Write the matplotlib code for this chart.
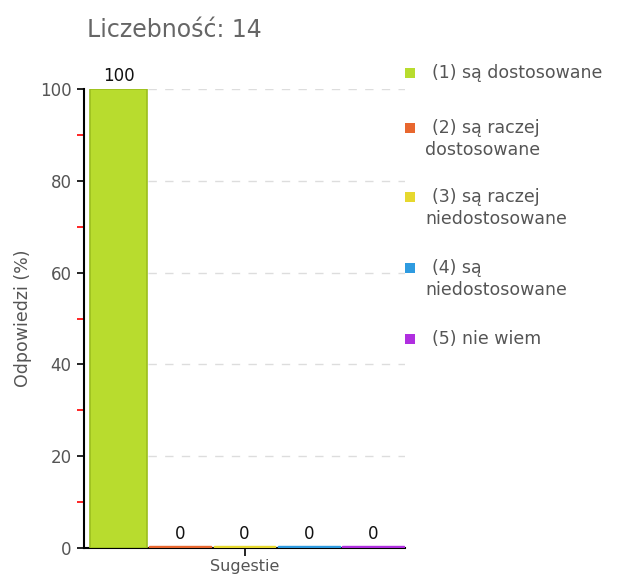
import matplotlib
matplotlib.use("Agg")
import matplotlib.pyplot as plt
from matplotlib.patches import Rectangle

categories = ["(1) są dostosowane", "(2) są raczej\ndostosowane", "(3) są raczej\nniedostosowane",
              "(4) są\nniedostosowane", "(5) nie wiem"]
values = [100, 0, 0, 0, 0]
colors = ["#b8dc2e", "#e8672f", "#e6d82e", "#2e9be0", "#b02ee0"]
edge_colors = ["#9cbf1e", "#e8672f", "#e6d82e", "#2e9be0", "#b02ee0"]
title = "Liczebność: 14"
xlabel = "Sugestie"
ylabel = "Odpowiedzi (%)"
yticks = [0, 20, 40, 60, 80, 100]

W, H = 632, 576
plt.rcParams['font.family'] = ['DejaVu Sans']
fig = plt.figure(figsize=(W / 100, H / 100), dpi=100)
ax = fig.add_axes([84 / W, 1 - 548 / H, (405 - 84) / W, (548 - 89) / H])

for i, (v, c, ec) in enumerate(zip(values, colors, edge_colors)):
    if v > 0:
        ax.bar(i + 0.54, v, width=0.88, color=c, edgecolor=ec, linewidth=1.2, zorder=3)
        ax.text(i + 0.54, v + 0.8, f"{v}", ha="center", va="bottom", fontsize=12, color="#111")
    else:
        ax.bar(i + 0.5, 0.5, width=0.96, color=c, edgecolor=c, linewidth=1.0, zorder=3)
        ax.text(i + 0.5, 1.0, f"{v}", ha="center", va="bottom", fontsize=12, color="#111")

ax.set_xlim(0, 5)
ax.set_ylim(0, 100)
ax.set_yticks(yticks)
ax.set_yticks([10, 30, 50, 70, 90], minor=True)
ax.tick_params(axis="y", which="major", length=5, width=1.2, color="black",
               labelsize=12, labelcolor="#555555", pad=4)
ax.tick_params(axis="y", which="minor", length=5, width=1.2, color="red")
ax.set_xticks([2.5])
ax.set_xticklabels([""])
ax.tick_params(axis="x", length=6, width=1.2, color="black")
for y in yticks[1:]:
    ax.plot([1, 5], [y, y], color="#dddddd", linestyle=(0, (6, 6)), linewidth=1, zorder=1)
ax.spines["top"].set_visible(False)
ax.spines["right"].set_visible(False)
ax.spines["left"].set_linewidth(1.5)
ax.spines["bottom"].set_linewidth(1.5)
ax.set_ylabel(ylabel, fontsize=12.5, color="#555555", labelpad=6)
fig.text(245 / W, 2 / H, xlabel, fontsize=11.5, color="#555555", ha="center", va="bottom")

fig.text(87 / W, 1 - 30 / H, title, fontsize=17, color="#666666", va="center", ha="left")

# legend
ys = [73, 128, 197, 268, 339]
for lab, c, y in zip(categories, colors, ys):
    fig.patches.append(Rectangle((405 / W, 1 - (y + 5) / H), 10 / W, 10 / H,
                                 transform=fig.transFigure, facecolor=c, edgecolor="none"))
    lines = lab.split("\n")
    for k, line in enumerate(lines):
        xx = 432 if k == 0 else 425
        fig.text(xx / W, 1 - (y + 22 * k) / H, line, fontsize=12.5, color="#555555",
                 va="center", ha="left")

fig.savefig("out.png", dpi=100)
